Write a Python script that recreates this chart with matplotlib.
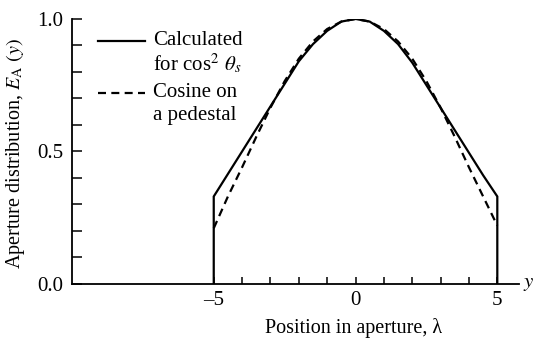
import matplotlib
matplotlib.use("Agg")
import matplotlib.pyplot as plt
from matplotlib.lines import Line2D

plt.rcParams['font.family'] = ['Liberation Serif', 'DejaVu Serif']
plt.rcParams['mathtext.fontset'] = 'stix'

# Data
pos = [-5, -4.5, -4, -3.5, -3, -2.5, -2, -1.5, -1, -0.5, 0,
       0.5, 1, 1.5, 2, 2.5, 3, 3.5, 4, 4.5, 5]
calculated = [0.33, 0.415, 0.50, 0.585, 0.67, 0.755, 0.84, 0.905, 0.955, 0.99, 1.0,
              0.99, 0.955, 0.905, 0.835, 0.75, 0.665, 0.58, 0.495, 0.41, 0.33]
pedestal = [0.21, 0.33, 0.44, 0.555, 0.665, 0.765, 0.85, 0.915, 0.962, 0.99, 1.0,
            0.99, 0.962, 0.915, 0.85, 0.765, 0.665, 0.555, 0.44, 0.33, 0.22]

xticks = [-5, 0, 5]
xminor = [-4, -3, -2, -1, 1, 2, 3, 4]
yticks = [0.0, 0.5, 1.0]
yminor = [0.1, 0.2, 0.3, 0.4, 0.6, 0.7, 0.8, 0.9]

DASH = (0, (3.6, 2.4))
FS = 15

fig = plt.figure(figsize=(5.33, 3.38), dpi=100)
ax = fig.add_axes([0.135, 0.16, 0.839, 0.784])

# solid curve with vertical edges down to zero
xs = [pos[0]] + pos + [pos[-1]]
ys = [0.0] + calculated + [0.0]
ax.plot(xs, ys, color='black', lw=1.6, solid_joinstyle='miter')
ax.plot(pos, pedestal, color='black', lw=1.6, ls=DASH)

ax.set_xlim(-10, 5.77)
ax.set_ylim(0, 1.0)
for s in ['top', 'right']:
    ax.spines[s].set_visible(False)
for s in ['left', 'bottom']:
    ax.spines[s].set_linewidth(1.3)

ax.set_xticks(xticks)
ax.set_xticklabels(['\u20135', '0', '5'])
ax.set_xticks(xminor, minor=True)
ax.set_yticks(yticks)
ax.set_yticklabels(['0.0', '0.5', '1.0'])
ax.set_yticks(yminor, minor=True)
ax.tick_params(axis='x', which='both', direction='in', length=5, width=1.1,
               labelsize=FS, pad=5)
ax.tick_params(axis='y', which='both', direction='in', length=7, width=1.1,
               labelsize=FS, pad=6)

ax.set_xlabel('Position in aperture, \u03bb', fontsize=14.5)
ax.set_ylabel(r'Aperture distribution, $E_{\mathrm{A}}\ (y)$', fontsize=14.5)
ax.xaxis.set_label_coords(0.629, -0.127)
ax.yaxis.set_label_coords(-0.101, 0.493)

# axis end label
ax.text(1.008, 0.0, r'$y$', transform=ax.transAxes, fontsize=FS,
        ha='left', va='center', clip_on=False)

# legend (manual)
tr = ax.transAxes
def axpt(px, py):
    return ((px - 72) / (519 - 72), (284 - py) / (284 - 19))

for (py, ls, l1, l2) in [(41, '-', 'Calculated', r'for cos$^2$ $\theta_s$'),
                         (93, DASH, 'Cosine on', 'a pedestal')]:
    x0, y0 = axpt(98, py)
    x1, _ = axpt(145, py)
    ax.add_line(Line2D([x0, x1], [y0, y0], transform=tr, color='black',
                       lw=1.6, ls=ls))
    tx, ty = axpt(153, py)
    ax.text(tx, ty, l1, transform=tr, fontsize=FS, ha='left', va='center')
    tx2, ty2 = axpt(153, py + 23)
    ax.text(tx2, ty2, l2, transform=tr, fontsize=FS, ha='left', va='center')

fig.savefig('out.png', dpi=100)
